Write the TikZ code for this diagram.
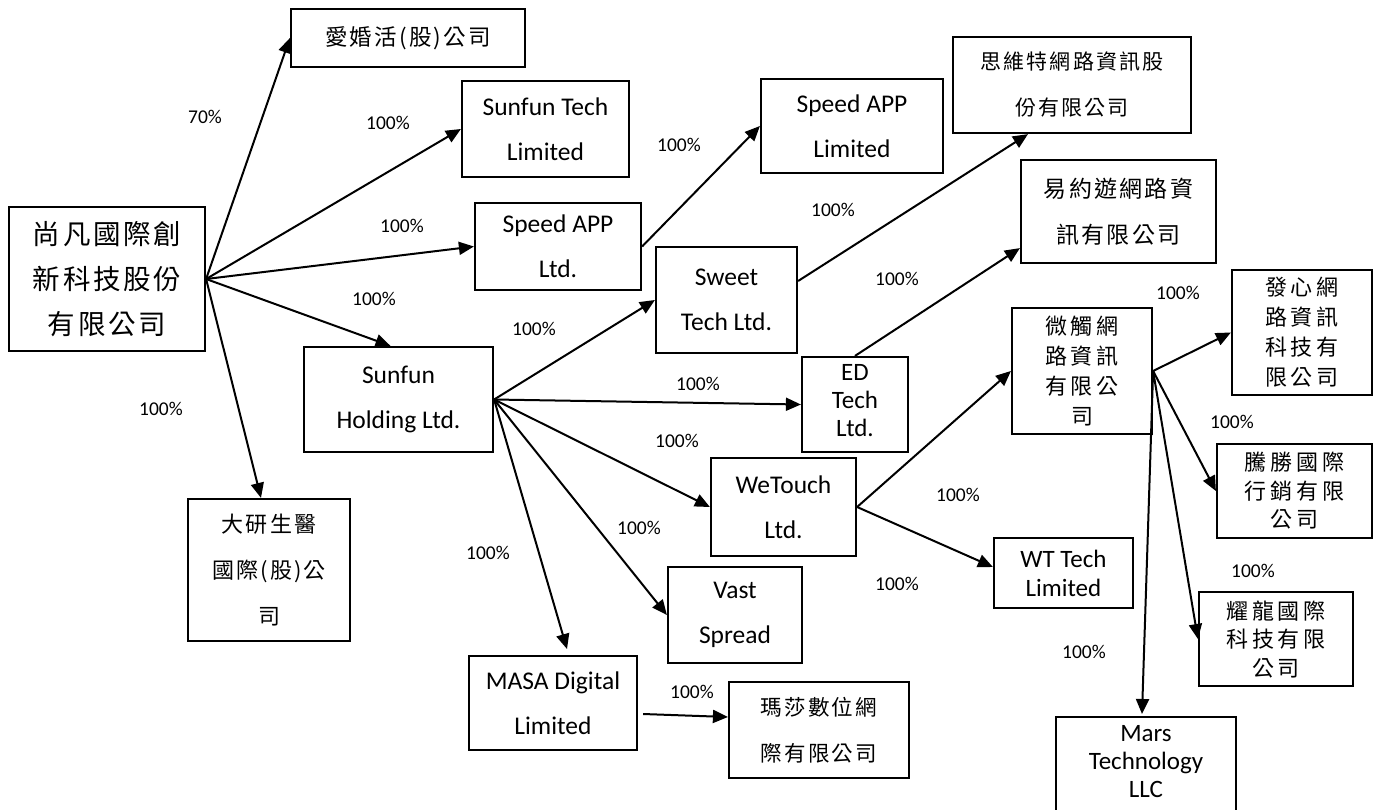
\documentclass[tikz,border=0pt]{standalone}
\usepackage{fontspec}
\setmainfont{Carlito}
\newfontfamily\cjkA[LetterSpace=10]{Noto Sans CJK TC}
\newfontfamily\cjkB[LetterSpace=18]{Noto Sans CJK TC}
\usetikzlibrary{arrows.meta,calc}
\tikzset{
  box/.style={draw, line width=2.2pt, inner sep=0pt, align=center},
  lat/.style={font=\fontsize{25.5}{45}\selectfont},
  latt/.style={font=\fontsize{25}{28}\selectfont},
  cjkbig/.style={font=\cjkA\fontsize{27.5}{45}\selectfont},
  cjka/.style={font=\cjkA\fontsize{22}{46}\selectfont},
  cjkb/.style={font=\cjkB\fontsize{22}{30}\selectfont},
  cjkbt/.style={font=\cjkB\fontsize{22}{28.5}\selectfont},
  arr/.style={line width=2pt, -{Triangle[length=15pt,width=13pt]}},
  pct/.style={font=\fontsize{19.5}{19.5}\selectfont, inner sep=0pt}
}
\begin{document}
\begin{tikzpicture}[x=1pt,y=-1pt]
\useasboundingbox (0,0) rectangle (1378,809);
\fill[white] (0,0) rectangle (1378,809);
\clip (0,0) rectangle (1378,809);

% boxes
\node[box,cjkbig,minimum width=196,minimum height=144] (main) at (107,279) {尚凡國際創\\新科技股份\\有限公司};
\node[box,font=\cjkA\fontsize{22.5}{30}\selectfont,minimum width=234,minimum height=58] (ahh) at (408,38) {愛婚活(股)公司};
\node[box,lat,minimum width=167,minimum height=96] (stech) at (545.5,129) {Sunfun Tech\\Limited};
\node[box,lat,minimum width=166,minimum height=87] (sal) at (558,246.5) {Speed APP\\Ltd.};
\node[box,lat,minimum width=189,minimum height=105] (hold) at (398.5,399.5) {Sunfun\\Holding Ltd.};
\node[box,cjka,minimum width=162,minimum height=142] (dy) at (269,570) {大研生醫\\國際(股)公\\司};
\node[box,lat,minimum width=182,minimum height=94] (spl) at (852,126) {Speed APP\\Limited};
\node[box,font=\cjkA\fontsize{21}{46}\selectfont,minimum width=238,minimum height=96] (swt) at (1072,85) {思維特網路資訊股\\份有限公司};
\node[box,lat,minimum width=141,minimum height=106] (sweet) at (726.5,300) {Sweet\\Tech Ltd.};
\node[box,font=\cjkA\fontsize{23}{46}\selectfont,minimum width=195,minimum height=103] (yyy) at (1118.5,211.5) {易約遊網路資\\訊有限公司};
\node[box,latt,text depth=8pt,minimum width=106,minimum height=95] (ed) at (855,404.5) {ED\\Tech\\Ltd.};
\node[box,lat,minimum width=145,minimum height=98] (we) at (783.5,507) {WeTouch\\Ltd.};
\node[box,lat,minimum width=134,minimum height=96] (vast) at (735,615) {Vast\\Spread};
\node[box,lat,minimum width=168,minimum height=94] (masa) at (553,703) {MASA Digital\\Limited};
\node[box,font=\cjkA\fontsize{21.5}{46}\selectfont,minimum width=180,minimum height=96] (msa) at (819,730) {瑪莎數位網\\際有限公司};
\node[box,cjkb,minimum width=140,minimum height=126] (wc) at (1082,371) {微觸網\\路資訊\\有限公\\司};
\node[box,font=\fontsize{25}{29}\selectfont,minimum width=139,minimum height=70] (wt) at (1063.5,573) {WT Tech\\Limited};
\node[box,cjkb,minimum width=140,minimum height=125] (fx) at (1302,332.5) {發心網\\路資訊\\科技有\\限公司};
\node[box,cjkbt,minimum width=155,minimum height=94] (ts) at (1294.5,491) {騰勝國際\\行銷有限\\公司};
\node[box,cjkbt,minimum width=154,minimum height=94] (yl) at (1276,639) {耀龍國際\\科技有限\\公司};
\node[box,latt,text depth=16pt,minimum width=180,minimum height=104,anchor=north] (mars) at (1146,716) {Mars\\Technology\\LLC};

\coordinate (masaT) at (567,649);

% connectors
\draw[arr] (main.east) -- (ahh.west);
\draw[arr] (main.east) -- (stech.west);
\draw[arr] (main.east) -- (sal.west);
\draw[arr] (main.east) -- ($(hold.north)+(-8,0)$);
\draw[arr] (main.east) -- ($(dy.north)+(-8,0)$);
\draw[arr] (sal.east) -- (spl.west);
\draw[arr] (hold.east) -- (sweet.west);
\draw[arr] (hold.east) -- (ed.west);
\draw[arr] (hold.east) -- (we.west);
\draw[arr] (hold.east) -- (vast.west);
\draw[arr] (hold.east) -- (masaT);
\draw[arr] ($(sweet.east)+(0,-19)$) -- ($(swt.south)+(-44,0)$);
\draw[arr] (ed.north) -- ($(yyy.south west)+(0,-16)$);
\draw[arr] (we.east) -- (wc.west);
\draw[arr] (we.east) -- ($(wt.west)+(0,-6)$);
\draw[arr] ($(masa.east)+(5,11)$) -- ($(msa.west)+(0,-13)$);
\draw[arr] (wc.east) -- (fx.west);
\draw[arr] (wc.east) -- (ts.west);
\draw[arr] (wc.east) -- (yl.west);
\draw[arr] (wc.east) -- ($(mars.north)+(-4,-2)$);

% labels
\node[pct] (p1) at (205,117) {70\%};
\node[pct] (p2) at (388,123) {100\%};
\node[pct] (p3) at (402,226) {100\%};
\node[pct] (p4) at (374,299) {100\%};
\node[pct] (p5) at (161,409) {100\%};
\node[pct] (p6) at (679,145) {100\%};
\node[pct] (p7) at (833,210) {100\%};
\node[pct] (p8) at (897,279) {100\%};
\node[pct] (p9) at (534,329) {100\%};
\node[pct] (p10) at (698,384) {100\%};
\node[pct] (p11) at (677,441) {100\%};
\node[pct] (p12) at (639,528) {100\%};
\node[pct] (p13) at (488,553) {100\%};
\node[pct] (p14) at (692,692) {100\%};
\node[pct] (p15) at (958,495) {100\%};
\node[pct] (p16) at (897,584) {100\%};
\node[pct] (p17) at (1178,293) {100\%};
\node[pct] (p18) at (1232,422) {100\%};
\node[pct] (p19) at (1253,571) {100\%};
\node[pct] (p20) at (1084,652) {100\%};
\end{tikzpicture}
\end{document}
